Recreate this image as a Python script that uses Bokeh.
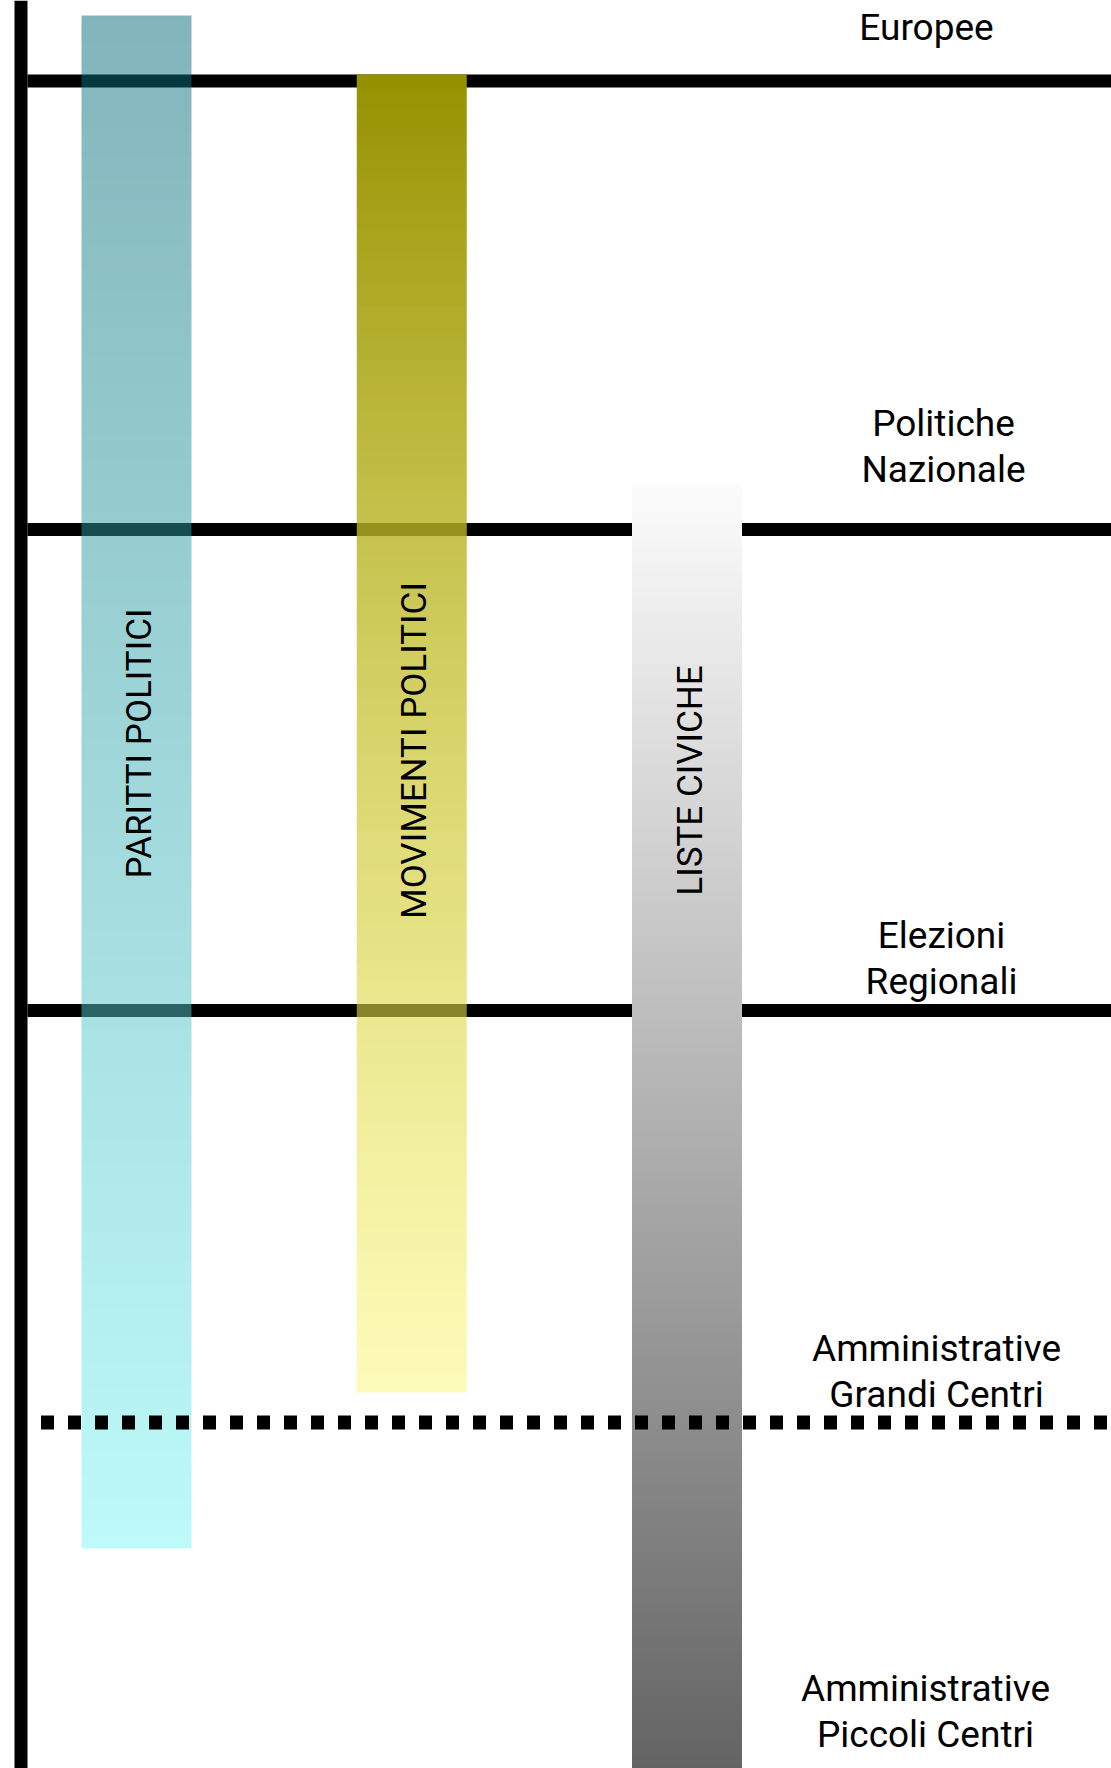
import numpy as np
from bokeh.plotting import figure
from bokeh.models import Range1d, Span
from bokeh.core.properties import value
from bokeh.embed import file_html
from bokeh.resources import INLINE

# ---------------- data ----------------
# election levels, from the top (widest scope) to the bottom (smallest)
levels = ["Europee", "Politiche\nNazionale", "Elezioni\nRegionali",
          "Amministrative\nGrandi Centri", "Amministrative\nPiccoli Centri"]
level_label_depth = [41, 437, 949, 1362, 1702]     # depth of first text line
level_label_x = [926, 943, 941, 936, 925]          # centre of the label
boundary_depth = [80.5, 529, 1010, 1422]           # separations between levels
boundary_dotted = [False, False, False, True]

# political actors and the depth range of levels they cover
actors = ["PARITTI POLITICI", "MOVIMENTI POLITICI", "LISTE CIVICHE"]
actor_from = [15, 74, 483]
actor_to = [1548, 1392, 1768]
actor_label_depth = [743, 750, 780]

# ---------------- styles ----------------
actor_top_rgba = [(6, 108, 120, 0.5), (150, 145, 0, 1.0), (252, 252, 252, 1.0)]
actor_bottom_rgba = [(125, 245, 245, 0.5), (250, 245, 100, 0.45), (100, 100, 100, 1.0)]

FONT = value("Roboto")
FIG_W, FIG_H = 1111, 1768
FIRST_COL_X, COL_STEP, BAR_W = 136, 275.25, 110
AXIS_X, AXIS_W = 20.5, 13

p = figure(width=FIG_W, height=FIG_H,
           x_range=Range1d(0, FIG_W), y_range=Range1d(-FIG_H, 0),
           output_backend="svg", toolbar_location=None, min_border=0)
p.axis.visible = False
p.grid.visible = False
p.outline_line_color = None
p.background_fill_color = "white"
p.border_fill_color = "white"

# solid separation lines (under the bars)
solid = [d for d, dot in zip(boundary_depth, boundary_dotted) if not dot]
p.segment(x0=[AXIS_X + AXIS_W / 2] * len(solid), x1=[FIG_W + 10] * len(solid),
          y0=[-d for d in solid], y1=[-d for d in solid],
          line_color="black", line_width=13, line_cap="butt")

# gradient bars
for i, name in enumerate(actors):
    cx = FIRST_COL_X + COL_STEP * i
    top, bot = actor_from[i], actor_to[i]
    rows = int(round(bot - top))
    cols = BAR_W
    t = np.linspace(0.0, 1.0, rows)[::-1]  # row 0 is the bottom
    c0 = np.array(actor_top_rgba[i], dtype=float)
    c1 = np.array(actor_bottom_rgba[i], dtype=float)
    c = c0[None, :] + (c1 - c0)[None, :] * t[:, None]
    img = np.empty((rows, cols), dtype=np.uint32)
    view = img.view(dtype=np.uint8).reshape((rows, cols, 4))
    view[:, :, 0] = np.round(c[:, 0])[:, None]
    view[:, :, 1] = np.round(c[:, 1])[:, None]
    view[:, :, 2] = np.round(c[:, 2])[:, None]
    view[:, :, 3] = np.round(c[:, 3] * 255)[:, None]
    p.image_rgba(image=[img], x=cx - BAR_W / 2, y=-bot, dw=BAR_W, dh=bot - top)

# vertical labels inside the bars
p.text(x=[FIRST_COL_X + COL_STEP * i + 3 for i in range(len(actors))],
       y=[-d for d in actor_label_depth], text=actors, angle=np.pi / 2,
       text_align="center", text_baseline="middle",
       text_font=FONT, text_font_size="35px", text_color="black")

# dotted separation line (over the bars)
dotted = [d for d, dot in zip(boundary_depth, boundary_dotted) if dot]
p.segment(x0=[AXIS_X] * len(dotted), x1=[FIG_W + 10] * len(dotted),
          y0=[-d for d in dotted], y1=[-d for d in dotted],
          line_color="black", line_width=14, line_cap="butt",
          line_dash="13 14", line_dash_offset=7)

# level labels on the right
LINE_GAP = 46
xs, ys, ts = [], [], []
for lab, d, lx in zip(levels, level_label_depth, level_label_x):
    for j, part in enumerate(lab.split("\n")):
        xs.append(lx)
        ys.append(-(d + j * LINE_GAP))
        ts.append(part)
p.text(x=xs, y=ys, text=ts, text_align="center", text_baseline="alphabetic",
       y_offset=-14,
       text_font=FONT, text_font_size="37px", text_color="black")

# left vertical axis line
p.add_layout(Span(location=AXIS_X, dimension="height", line_color="black",
                  line_width=AXIS_W))

open("out.html", "w").write(file_html(p, INLINE))
